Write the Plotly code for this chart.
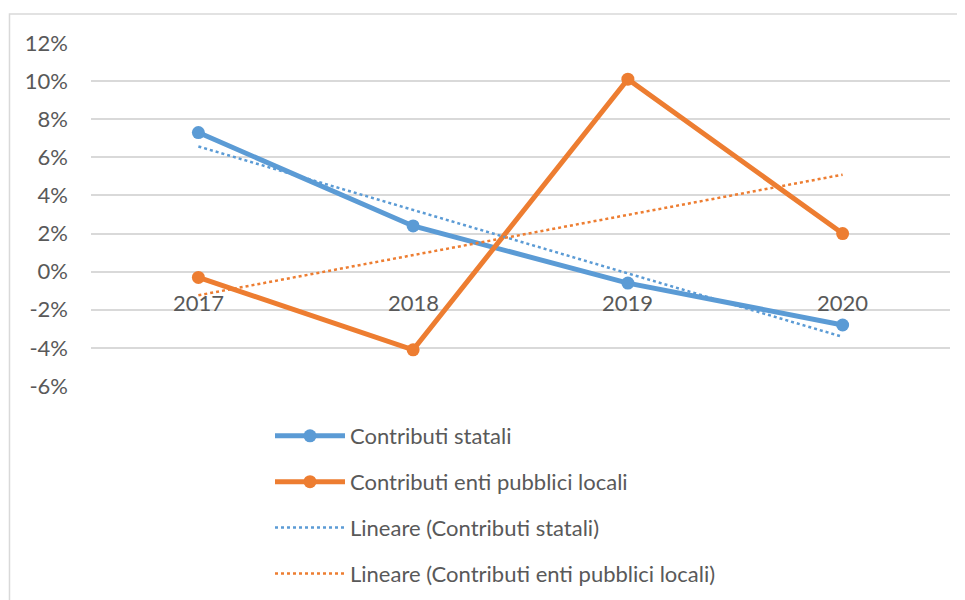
import numpy as np
import plotly.graph_objects as go

years = ["2017", "2018", "2019", "2020"]
statali = [7.3, 2.4, -0.6, -2.8]
enti_locali = [-0.3, -4.1, 10.1, 2.0]
tick_vals = [-6, -4, -2, 0, 2, 4, 6, 8, 10, 12]
tick_text = ["-6%", "-4%", "-2%", "0%", "2%", "4%", "6%", "8%", "10%", "12%"]

BLUE = "#5B9BD5"
ORANGE = "#ED7D31"
TEXT = "#595959"
GRID = "#D9D9D9"
FONT = "Lato"
FS = 22
W, H = 957, 592

idx = np.arange(len(years))
trend_s = np.polyval(np.polyfit(idx, statali, 1), idx)
trend_e = np.polyval(np.polyfit(idx, enti_locali, 1), idx)

fig = go.Figure()
fig.add_trace(go.Scatter(x=years, y=statali, name="Contributi statali", mode="lines+markers",
                         line=dict(color=BLUE, width=5), marker=dict(size=13, color=BLUE),
                         legendgroup="a"))
fig.add_trace(go.Scatter(x=years, y=enti_locali, name="Contributi enti pubblici locali", mode="lines+markers",
                         line=dict(color=ORANGE, width=5), marker=dict(size=13, color=ORANGE),
                         legendgroup="b"))
fig.add_trace(go.Scatter(x=years, y=trend_s, name="Lineare (Contributi statali)", mode="lines",
                         line=dict(color=BLUE, width=2.5, dash="dot"), legendgroup="c"))
fig.add_trace(go.Scatter(x=years, y=trend_e, name="Lineare (Contributi enti pubblici locali)", mode="lines",
                         line=dict(color=ORANGE, width=2.5, dash="dot"), legendgroup="d"))

for i, y in enumerate(years):
    fig.add_annotation(x=i, y=0, xref="x", yref="y", text=y, showarrow=False,
                       yanchor="middle", yshift=-31, font=dict(family=FONT, size=FS, color=TEXT))

fig.add_shape(type="rect", xref="paper", yref="paper", x0=-0.0949, x1=1.0163, y0=-0.65, y1=1.0845,
              line=dict(color=GRID, width=1.5), layer="below")

fig.update_layout(
    width=W, height=H,
    margin=dict(l=83, r=15, t=35, b=214, autoexpand=False),
    paper_bgcolor="white", plot_bgcolor="white",
    font=dict(family=FONT, size=FS, color=TEXT),
    showlegend=True,
    legend=dict(x=262 / W, y=1 - 407 / H, xref="container", yref="container",
                xanchor="left", yanchor="top", orientation="v",
                traceorder="grouped", tracegroupgap=14.3, itemwidth=70,
                font=dict(family=FONT, size=FS, color=TEXT), bgcolor="rgba(0,0,0,0)"),
    xaxis=dict(type="category", range=[-0.5, 3.5], showticklabels=False, showgrid=False,
               zeroline=False, showline=False, ticks="", automargin=False),
    yaxis=dict(range=[-6, 12], tickvals=tick_vals, ticktext=tick_text, showgrid=True,
               gridcolor=GRID, gridwidth=1.5, zeroline=False, showline=False, ticks="",
               ticklabelstandoff=22, automargin=False,
               tickfont=dict(family=FONT, size=FS, color=TEXT)),
)

fig.write_html("out.html")
